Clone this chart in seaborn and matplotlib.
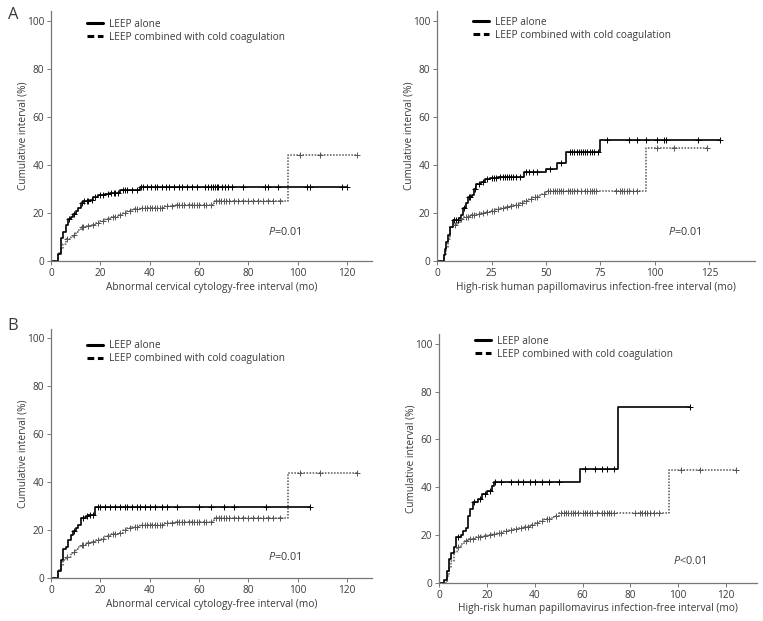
import numpy as np
import pandas as pd
import matplotlib
matplotlib.use("Agg")
import matplotlib.pyplot as plt
from matplotlib.lines import Line2D
import seaborn as sns

# ── data ─────────────────────────────────────────────────────────────────────
# each curve: event times (mo), cumulative % after the event, last follow-up, censor times

# A, left: abnormal cytology
a1_alone_t = [3, 4, 5, 6, 7, 8, 9, 10, 11, 12, 13, 16, 17, 19, 22, 24, 28, 36]
a1_alone_y = [3, 9.5, 12, 15, 17.5, 18.5, 19.5, 21, 22, 24, 25, 25.5, 26.5, 27.5, 28, 28.5, 29.5, 31]
a1_alone_end = 120
a1_alone_cens = [7.5, 9.5, 12.5, 13.5, 14.5, 15, 16.5, 18, 20, 21, 23, 24.5, 25.5, 26, 27, 29, 30, 31,
                 33, 35, 36.5, 37.5, 39, 40.5, 42, 43, 45, 46.5, 48, 50, 52, 53, 55, 57, 59,
                 62.4, 63.8, 64.9, 65.5, 66.5, 67.2, 67.8, 69.2, 70.5, 71.9, 73.2, 78, 86.8, 88.1,
                 92.1, 103.6, 104.9, 117.8, 120]

a1_comb_t = [3, 4, 5, 6, 8, 9, 10, 11, 12, 14, 16, 18, 20, 22, 24, 27, 29, 31, 33, 36, 46, 50, 66, 96]
a1_comb_y = [3.5, 5, 7, 9, 10, 11, 12, 13, 14, 14.5, 15, 16, 16.5, 17.5, 18.5, 19, 20, 21, 21.5, 22,
             23, 23.5, 25, 44]
a1_comb_end = 124
a1_comb_cens = [6.5, 9.5, 12.5, 13, 15, 17, 19, 21, 23, 25, 26, 28, 30, 32, 34, 35, 37, 38, 39, 40,
                41, 42, 43, 44, 45, 47, 49, 51, 52, 53, 54, 56, 57, 58, 59, 60, 62, 63, 65, 67,
                68, 69, 70, 71, 72, 74, 76, 78, 80, 82, 84, 86, 88, 90, 93, 101, 109, 124]

# A, right: high-risk HPV
a2_alone_t = [3, 3.5, 4, 5, 6, 7, 10, 11, 12, 13, 14, 16, 17, 18, 20, 22, 24, 28, 40, 50, 55, 59, 75]
a2_alone_y = [2.5, 5, 8, 11, 14, 17, 18, 19, 22, 24, 26.5, 27.5, 30, 32, 33, 34, 34.5, 35, 37, 38.5,
              41, 45.5, 50.5]
a2_alone_end = 130
a2_alone_cens = [7.5, 8.5, 9.5, 12.5, 14.5, 15, 17.5, 19, 21, 23, 25, 26, 27, 29, 30, 31, 32, 33,
                 34, 35, 36, 38, 41, 42, 44, 46, 52, 57, 61, 62, 63, 64, 65, 66, 67, 68, 69, 70,
                 71, 72, 74, 78, 88, 92, 96, 101, 104, 105, 120, 130]

a2_comb_t = [3, 4, 5, 6, 7.5, 9, 10.5, 12, 15, 18, 20, 22, 24, 27, 29, 31, 33, 35, 38, 40, 42, 44,
             47, 48, 50, 96]
a2_comb_y = [3, 6, 9, 14, 15, 16, 17.5, 18.5, 19, 19.5, 20, 20.5, 21, 21.5, 22, 22.5, 23, 23.5, 24,
             25, 26, 26.5, 27.5, 28, 29, 47]
a2_comb_end = 124
a2_comb_cens = [8, 11, 13, 14, 16, 17, 19, 21, 23, 25, 26, 28, 30, 32, 34, 36, 37, 39, 41, 43, 45,
                46, 49, 51, 52, 53, 54, 55, 56, 57, 58, 60, 61, 62, 63, 64, 66, 68, 69, 70, 71,
                72, 73, 82, 84, 85, 86, 87, 88, 90, 92, 101, 109, 124]

# B, left: abnormal cytology
b1_alone_t = [3, 4, 5, 6, 7, 8, 9, 10, 11, 12, 14, 15, 18]
b1_alone_y = [3, 7.5, 12, 13, 16, 18, 19.5, 21, 22, 25, 26, 26.5, 29.5]
b1_alone_end = 105
b1_alone_cens = [9.5, 13, 14.5, 16, 17, 19, 20, 22, 24, 26, 28, 30, 31, 33, 35, 36, 38, 40, 42, 45,
                 47, 51, 60, 65, 70, 74, 87, 105]

b1_comb_t = [3, 4, 5, 6, 8, 9, 10, 11, 12, 14, 16, 18, 20, 22, 24, 27, 29, 31, 33, 36, 46, 50, 66, 96]
b1_comb_y = [3.5, 5, 7.5, 9, 10.5, 11, 12, 13, 14, 14.5, 15, 16, 16.5, 17.5, 18.5, 19, 20, 21, 21.5,
             22, 23, 23.5, 25, 44]
b1_comb_end = 124
b1_comb_cens = [6.5, 9.5, 12.5, 13, 15, 17, 19, 21, 23, 25, 26, 28, 30, 32, 34, 35, 37, 38, 39, 40,
                41, 42, 43, 44, 45, 47, 49, 51, 52, 53, 54, 56, 57, 58, 59, 60, 62, 63, 65, 67,
                68, 69, 70, 71, 72, 74, 76, 78, 80, 82, 84, 86, 88, 90, 93, 101, 109, 124]

# B, right: high-risk HPV
b2_alone_t = [2, 3, 4, 5, 6, 7, 9, 10, 11, 12, 13, 14, 16, 18, 20, 22, 23, 59, 75]
b2_alone_y = [1, 5, 10, 12.5, 15, 19, 20, 21.5, 23, 28, 31, 34, 35, 37, 38.5, 40.5, 42, 47.5, 73.5]
b2_alone_end = 105
b2_alone_cens = [8, 14.5, 17, 19, 21, 23.5, 26, 30, 33, 35, 38, 40, 43, 46, 50, 61, 65, 68, 70, 73,
                 105]

b2_comb_t = [3, 4, 5, 6, 7.5, 9, 10.5, 12, 15, 18, 20, 22, 24, 27, 29, 31, 33, 35, 38, 40, 42, 44,
             47, 48, 50, 96]
b2_comb_y = [3, 6, 9, 13, 15, 16, 17.5, 18.5, 19, 19.5, 20, 20.5, 21, 21.5, 22, 22.5, 23, 23.5, 24,
             25, 26, 26.5, 27.5, 28, 29, 47]
b2_comb_end = 124
b2_comb_cens = [8, 11, 13, 14, 16, 17, 19, 21, 23, 25, 26, 28, 30, 32, 34, 36, 37, 39, 41, 43, 45,
                46, 49, 51, 52, 53, 54, 55, 56, 57, 58, 60, 61, 62, 63, 64, 66, 68, 69, 70, 71,
                72, 73, 82, 84, 85, 86, 87, 88, 90, 92, 101, 109, 124]

x_labels = ["Abnormal cervical cytology-free interval (mo)",
            "High-risk human papillomavirus infection-free interval (mo)"]
p_texts = ["=0.01", "=0.01", "=0.01", "<0.01"]
legend_labels = ["LEEP alone", "LEEP combined with cold coagulation"]

# ── style ─────────────────────────────────────────────────────────────────────
sns.set_style("ticks")
plt.rcParams["font.family"] = ["Open Sans", "DejaVu Sans"]
plt.rcParams["mathtext.fontset"] = "custom"
plt.rcParams["mathtext.it"] = "Open Sans:italic"
plt.rcParams["mathtext.rm"] = "Open Sans"
TXT = "#3a3a3a"
SPINE = "#777777"
FS = 7.3


def step_frame(times, levels, end):
    xs = [0] + list(times) + [end]
    ys = [0] + list(levels) + [levels[-1]]
    return pd.DataFrame({"t": xs, "pct": ys})


def level_at(times, levels, cens):
    idx = np.searchsorted(np.asarray(times), np.asarray(cens), side="right") - 1
    lv = np.r_[0.0, np.asarray(levels, dtype=float)]
    return pd.DataFrame({"t": cens, "pct": lv[idx + 1]})


def draw_panel(ax, alone, comb, xlim, xticks, xlabel, ptxt, ppos, leg_y):
    for (t, y, end, cens), ls, col, lw in [(comb, (0, (1, 1)), "#555555", 1.1),
                                           (alone, "-", "black", 1.2)]:
        sns.lineplot(data=step_frame(t, y, end), x="t", y="pct", drawstyle="steps-post",
                     estimator=None, sort=False, color=col, linestyle=ls, lw=lw, ax=ax)
        sns.scatterplot(data=level_at(t, y, cens), x="t", y="pct", marker="+", s=14,
                        color=col, linewidth=0.7, ax=ax, zorder=3)
    ax.set_xlim(*xlim)
    ax.set_ylim(0, 104)
    ax.set_xticks(xticks)
    ax.set_yticks(range(0, 101, 20))
    ax.set_xlabel(xlabel, fontsize=FS, color=TXT, labelpad=2)
    ax.set_ylabel("Cumulative interval (%)", fontsize=FS, color=TXT, labelpad=-1)
    ax.tick_params(labelsize=FS, colors=TXT, length=3, width=0.7, color=SPINE, pad=2)
    sns.despine(ax=ax)
    for s in ("left", "bottom"):
        ax.spines[s].set_color(SPINE)
        ax.spines[s].set_linewidth(0.9)
    ax.text(ppos[0], ppos[1], r"$\mathit{P}$" + ptxt, fontsize=FS + 0.5, color=TXT,
            ha="left", va="center")
    handles = [Line2D([], [], color="black", lw=2.2),
               Line2D([], [], color="black", lw=2.2, linestyle=(0, (2.2, 1.2)))]
    ax.legend(handles, legend_labels, loc="upper left", bbox_to_anchor=(0.1, leg_y),
              frameon=False, fontsize=FS, handlelength=1.6, handletextpad=0.6,
              labelspacing=0.2, labelcolor=TXT, borderaxespad=0)


fig = plt.figure(figsize=(7.63, 6.21), dpi=100)
ax1 = fig.add_axes([0.0668, 0.5797, 0.4203, 0.4019])
ax2 = fig.add_axes([0.5731, 0.5797, 0.4164, 0.4019])
ax3 = fig.add_axes([0.0668, 0.0688, 0.4203, 0.4020])
ax4 = fig.add_axes([0.5758, 0.0617, 0.4164, 0.3998])

draw_panel(ax1, (a1_alone_t, a1_alone_y, a1_alone_end, a1_alone_cens),
           (a1_comb_t, a1_comb_y, a1_comb_end, a1_comb_cens),
           (0, 130), range(0, 121, 20), x_labels[0], p_texts[0], (88, 12), 0.986)
draw_panel(ax2, (a2_alone_t, a2_alone_y, a2_alone_end, a2_alone_cens),
           (a2_comb_t, a2_comb_y, a2_comb_end, a2_comb_cens),
           (0, 146), range(0, 126, 25), x_labels[1], p_texts[1], (106, 12), 0.994)
draw_panel(ax3, (b1_alone_t, b1_alone_y, b1_alone_end, b1_alone_cens),
           (b1_comb_t, b1_comb_y, b1_comb_end, b1_comb_cens),
           (0, 130), range(0, 121, 20), x_labels[0], p_texts[2], (88, 9), 0.97)
draw_panel(ax4, (b2_alone_t, b2_alone_y, b2_alone_end, b2_alone_cens),
           (b2_comb_t, b2_comb_y, b2_comb_end, b2_comb_cens),
           (0, 133), range(0, 121, 20), x_labels[1], p_texts[3], (98, 9), 1.01)

fig.text(0.010, 0.988, "A", fontsize=12, color=TXT, va="top")
fig.text(0.010, 0.488, "B", fontsize=12, color=TXT, va="top")

fig.savefig("out.png", dpi=100)
